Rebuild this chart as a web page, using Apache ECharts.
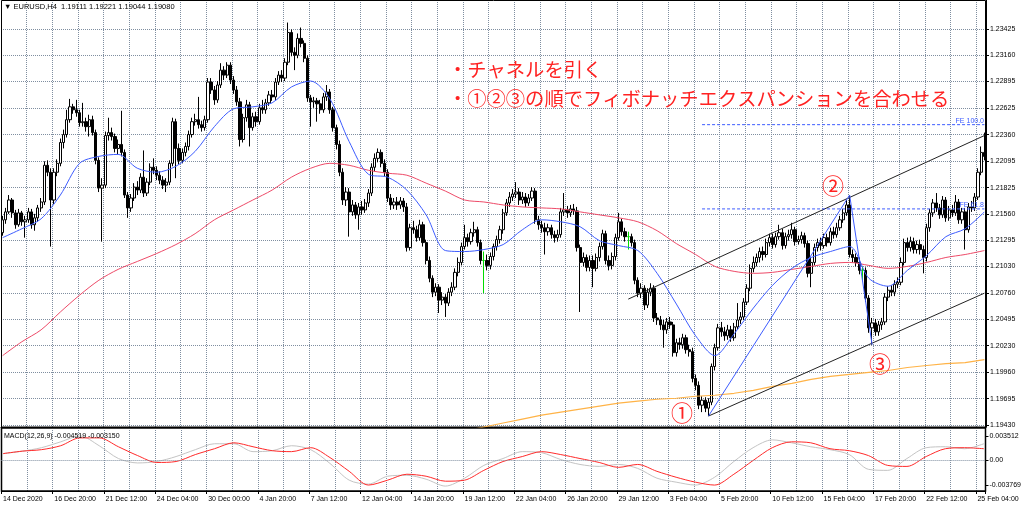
<!DOCTYPE html>
<html><head><meta charset="utf-8">
<script src="https://cdn.jsdelivr.net/npm/echarts@6/dist/echarts.min.js"></script>
<style>html,body{margin:0;padding:0;background:#fff}#c{width:1024px;height:508px}</style>
</head><body><div id="c"></div>
<script>
// ---- tick labels ----
const priceLabels = ['1.19430','1.19695','1.19960','1.20230','1.20495','1.20760','1.21030','1.21295','1.21560','1.21825','1.22095','1.22360','1.22625','1.22895','1.23160','1.23425'];
const timeLabels = ['14 Dec 2020','16 Dec 20:00','21 Dec 12:00','24 Dec 04:00','30 Dec 00:00','4 Jan 20:00','7 Jan 12:00','12 Jan 04:00','14 Jan 20:00','19 Jan 12:00','22 Jan 04:00','26 Jan 20:00','29 Jan 12:00','3 Feb 04:00','5 Feb 20:00','10 Feb 12:00','15 Feb 04:00','17 Feb 20:00','22 Feb 12:00','25 Feb 04:00'];
const macdLabels = [0.003512, 0, -0.003769];

// ---- EURUSD H4 candles ----
const opens = [1.2137,1.2150,1.2158,1.2170,1.2157,1.2145,1.2157,1.2148,1.2150,1.2158,1.2145,1.2152,1.2162,1.2168,1.2205,1.2198,1.2170,1.2198,1.2207,1.2228,
1.2236,1.2251,1.2264,1.2261,1.2258,1.2248,1.2249,1.2244,1.2251,1.2238,1.2210,1.2182,1.2185,1.2235,1.2238,1.2234,1.2222,1.2226,1.2218,1.2175,
1.2162,1.2172,1.2183,1.2180,1.2193,1.2177,1.2188,1.2203,1.2200,1.2195,1.2190,1.2185,1.2188,1.2207,1.2249,1.2222,1.2210,1.2218,1.2224,1.2236,
1.2249,1.2251,1.2246,1.2243,1.2251,1.2289,1.2281,1.2271,1.2286,1.2301,1.2296,1.2306,1.2291,1.2281,1.2269,1.2231,1.2253,1.2266,1.2243,1.2254,
1.2249,1.2263,1.2261,1.2268,1.2276,1.2274,1.2289,1.2296,1.2293,1.2309,1.2339,1.2319,1.2316,1.2333,1.2328,1.2313,1.2273,1.2269,1.2270,1.2267,
1.2261,1.2274,1.2279,1.2261,1.2243,1.2226,1.2198,1.2170,1.2178,1.2158,1.2165,1.2155,1.2163,1.2160,1.2167,1.2177,1.2203,1.2212,1.2218,1.2207,
1.2198,1.2172,1.2165,1.2168,1.2165,1.2169,1.2163,1.2122,1.2142,1.2140,1.2132,1.2145,1.2127,1.2109,1.2091,1.2077,1.2082,1.2069,1.2072,1.2066,
1.2077,1.2082,1.2097,1.2107,1.2123,1.2132,1.2128,1.2137,1.2140,1.2127,1.2109,1.2109,1.2104,1.2113,1.2123,1.2130,1.2140,1.2157,1.2167,1.2173,
1.2176,1.2178,1.2170,1.2173,1.2167,1.2172,1.2179,1.2150,1.2145,1.2142,1.2138,1.2142,1.2135,1.2132,1.2135,1.2158,1.2160,1.2157,1.2161,1.2159,
1.2122,1.2107,1.2112,1.2102,1.2109,1.2101,1.2112,1.2123,1.2136,1.2109,1.2104,1.2113,1.2132,1.2148,1.2138,1.2133,1.2133,1.2127,1.2089,1.2076,
1.2081,1.2064,1.2077,1.2081,1.2051,1.2049,1.2044,1.2039,1.2047,1.2044,1.2016,1.2026,1.2024,1.2031,1.2019,1.2017,1.1990,1.1983,1.1963,1.1968,
1.1960,1.1966,1.2002,1.2021,1.2041,1.2037,1.2033,1.2039,1.2031,1.2042,1.2049,1.2052,1.2067,1.2081,1.2101,1.2107,1.2112,1.2118,1.2115,1.2127,
1.2132,1.2125,1.2133,1.2137,1.2124,1.2133,1.2135,1.2140,1.2128,1.2130,1.2134,1.2126,1.2096,1.2107,1.2122,1.2127,1.2124,1.2132,1.2127,1.2138,
1.2135,1.2142,1.2150,1.2157,1.2165,1.2115,1.2112,1.2107,1.2099,1.2099,1.2071,1.2041,1.2046,1.2037,1.2044,1.2047,1.2072,1.2079,1.2077,1.2085,
1.2087,1.2107,1.2127,1.2122,1.2128,1.2120,1.2125,1.2120,1.2112,1.2142,1.2157,1.2167,1.2162,1.2155,1.2170,1.2152,1.2160,1.2157,1.2168,1.2150,
1.2158,1.2140,1.2163,1.2162,1.2173,1.2198,1.2218];
const highs = [1.2154,1.2162,1.2175,1.2172,1.2160,1.2161,1.2159,1.2154,1.2162,1.2161,1.2156,1.2165,1.2172,1.2209,1.2210,1.2202,1.2202,1.2211,1.2232,1.2241,
1.2261,1.2272,1.2267,1.2271,1.2261,1.2268,1.2253,1.2256,1.2255,1.2241,1.2213,1.2192,1.2239,1.2253,1.2243,1.2237,1.2231,1.2260,1.2221,1.2178,
1.2176,1.2187,1.2189,1.2197,1.2220,1.2192,1.2207,1.2212,1.2204,1.2199,1.2194,1.2192,1.2210,1.2253,1.2252,1.2227,1.2222,1.2228,1.2240,1.2253,
1.2257,1.2274,1.2250,1.2255,1.2293,1.2293,1.2285,1.2290,1.2308,1.2305,1.2309,1.2309,1.2295,1.2285,1.2273,1.2257,1.2271,1.2269,1.2258,1.2259,
1.2267,1.2271,1.2272,1.2280,1.2281,1.2293,1.2300,1.2301,1.2313,1.2349,1.2342,1.2324,1.2338,1.2344,1.2331,1.2316,1.2276,1.2274,1.2273,1.2271,
1.2278,1.2286,1.2282,1.2264,1.2246,1.2230,1.2202,1.2183,1.2182,1.2170,1.2168,1.2167,1.2169,1.2171,1.2181,1.2207,1.2217,1.2222,1.2221,1.2211,
1.2201,1.2176,1.2172,1.2173,1.2173,1.2172,1.2167,1.2146,1.2149,1.2144,1.2150,1.2148,1.2130,1.2113,1.2094,1.2086,1.2085,1.2077,1.2075,1.2081,
1.2087,1.2101,1.2112,1.2127,1.2145,1.2136,1.2141,1.2148,1.2143,1.2130,1.2118,1.2115,1.2117,1.2126,1.2134,1.2144,1.2161,1.2171,1.2178,1.2181,
1.2188,1.2182,1.2178,1.2177,1.2176,1.2183,1.2182,1.2154,1.2149,1.2147,1.2146,1.2145,1.2139,1.2140,1.2162,1.2177,1.2164,1.2165,1.2166,1.2163,
1.2125,1.2117,1.2115,1.2114,1.2114,1.2116,1.2127,1.2140,1.2139,1.2114,1.2117,1.2136,1.2157,1.2151,1.2142,1.2138,1.2136,1.2130,1.2092,1.2086,
1.2084,1.2081,1.2086,1.2084,1.2056,1.2053,1.2049,1.2051,1.2052,1.2047,1.2030,1.2031,1.2035,1.2034,1.2024,1.2021,1.1994,1.1987,1.1972,1.1971,
1.1970,1.2005,1.2025,1.2045,1.2047,1.2042,1.2044,1.2043,1.2046,1.2066,1.2057,1.2071,1.2085,1.2105,1.2113,1.2116,1.2122,1.2123,1.2131,1.2136,
1.2136,1.2137,1.2145,1.2141,1.2137,1.2140,1.2147,1.2143,1.2134,1.2138,1.2137,1.2129,1.2112,1.2126,1.2131,1.2132,1.2136,1.2136,1.2142,1.2143,
1.2147,1.2154,1.2161,1.2170,1.2175,1.2120,1.2116,1.2112,1.2103,1.2102,1.2074,1.2051,1.2050,1.2048,1.2051,1.2076,1.2083,1.2084,1.2089,1.2092,
1.2112,1.2131,1.2132,1.2133,1.2132,1.2129,1.2130,1.2124,1.2146,1.2161,1.2171,1.2177,1.2166,1.2174,1.2173,1.2164,1.2165,1.2175,1.2171,1.2162,
1.2162,1.2167,1.2169,1.2177,1.2202,1.2224,1.2238];
const lows = [1.2134,1.2146,1.2156,1.2152,1.2141,1.2143,1.2144,1.2132,1.2147,1.2141,1.2139,1.2148,1.2158,1.2165,1.2194,1.2123,1.2166,1.2194,1.2204,1.2222,
1.2233,1.2248,1.2257,1.2254,1.2244,1.2244,1.2239,1.2234,1.2235,1.2206,1.2178,1.2128,1.2182,1.2230,1.2230,1.2218,1.2216,1.2214,1.2172,1.2152,
1.2158,1.2169,1.2175,1.2177,1.2173,1.2174,1.2185,1.2196,1.2190,1.2186,1.2181,1.2178,1.2185,1.2204,1.2192,1.2206,1.2207,1.2214,1.2220,1.2233,
1.2245,1.2242,1.2239,1.2240,1.2248,1.2277,1.2266,1.2268,1.2283,1.2291,1.2293,1.2287,1.2277,1.2265,1.2224,1.2228,1.2249,1.2224,1.2240,1.2244,
1.2246,1.2257,1.2257,1.2265,1.2270,1.2271,1.2286,1.2289,1.2290,1.2306,1.2315,1.2301,1.2313,1.2324,1.2309,1.2269,1.2244,1.2263,1.2249,1.2257,
1.2258,1.2270,1.2257,1.2239,1.2221,1.2194,1.2165,1.2164,1.2133,1.2154,1.2151,1.2140,1.2155,1.2157,1.2163,1.2174,1.2199,1.2208,1.2203,1.2194,
1.2168,1.2160,1.2161,1.2160,1.2161,1.2158,1.2118,1.2119,1.2136,1.2128,1.2129,1.2123,1.2105,1.2087,1.2072,1.2073,1.2056,1.2064,1.2052,1.2063,
1.2073,1.2079,1.2093,1.2104,1.2120,1.2123,1.2125,1.2133,1.2123,1.2105,1.2076,1.2099,1.2100,1.2109,1.2119,1.2126,1.2136,1.2154,1.2163,1.2169,
1.2172,1.2165,1.2166,1.2163,1.2164,1.2169,1.2146,1.2140,1.2137,1.2115,1.2134,1.2131,1.2127,1.2128,1.2132,1.2154,1.2152,1.2153,1.2155,1.2118,
1.2057,1.2103,1.2098,1.2098,1.2082,1.2098,1.2108,1.2120,1.2105,1.2099,1.2100,1.2109,1.2129,1.2134,1.2128,1.2120,1.2123,1.2085,1.2072,1.2071,
1.2059,1.2061,1.2073,1.2047,1.2044,1.2039,1.2021,1.2035,1.2040,1.2012,1.2012,1.2019,1.2020,1.2015,1.2012,1.1986,1.1978,1.1959,1.1956,1.1956,
1.1952,1.1963,1.1998,1.2018,1.2032,1.2028,1.2029,1.2027,1.2028,1.2039,1.2045,1.2049,1.2064,1.2078,1.2097,1.2103,1.2107,1.2109,1.2112,1.2123,
1.2121,1.2122,1.2130,1.2120,1.2121,1.2129,1.2131,1.2124,1.2125,1.2126,1.2122,1.2092,1.2082,1.2104,1.2118,1.2119,1.2121,1.2123,1.2124,1.2131,
1.2132,1.2139,1.2147,1.2154,1.2112,1.2107,1.2103,1.2095,1.2089,1.2067,1.2036,1.2024,1.2033,1.2033,1.2039,1.2044,1.2068,1.2073,1.2073,1.2081,
1.2084,1.2104,1.2118,1.2118,1.2116,1.2116,1.2115,1.2096,1.2108,1.2138,1.2153,1.2158,1.2151,1.2152,1.2148,1.2149,1.2153,1.2154,1.2146,1.2146,
1.2120,1.2137,1.2158,1.2159,1.2170,1.2195,1.2210];
const closes = [1.2150,1.2158,1.2170,1.2157,1.2145,1.2157,1.2148,1.2150,1.2158,1.2145,1.2152,1.2162,1.2168,1.2205,1.2198,1.2170,1.2198,1.2207,1.2228,1.2236,
1.2251,1.2264,1.2261,1.2258,1.2248,1.2249,1.2244,1.2251,1.2238,1.2210,1.2182,1.2185,1.2235,1.2238,1.2234,1.2222,1.2226,1.2218,1.2175,1.2162,
1.2172,1.2183,1.2180,1.2193,1.2177,1.2188,1.2203,1.2200,1.2195,1.2190,1.2185,1.2188,1.2207,1.2249,1.2222,1.2210,1.2218,1.2224,1.2236,1.2249,
1.2251,1.2246,1.2243,1.2251,1.2289,1.2281,1.2271,1.2286,1.2301,1.2296,1.2306,1.2291,1.2281,1.2269,1.2231,1.2253,1.2266,1.2243,1.2254,1.2249,
1.2263,1.2261,1.2268,1.2276,1.2274,1.2289,1.2296,1.2293,1.2309,1.2339,1.2319,1.2316,1.2333,1.2328,1.2313,1.2273,1.2269,1.2270,1.2267,1.2261,
1.2274,1.2279,1.2261,1.2243,1.2226,1.2198,1.2170,1.2178,1.2158,1.2165,1.2155,1.2163,1.2160,1.2167,1.2177,1.2203,1.2212,1.2218,1.2207,1.2198,
1.2172,1.2165,1.2168,1.2165,1.2169,1.2163,1.2122,1.2142,1.2140,1.2132,1.2145,1.2127,1.2109,1.2091,1.2077,1.2082,1.2069,1.2072,1.2066,1.2077,
1.2082,1.2097,1.2107,1.2123,1.2132,1.2128,1.2137,1.2140,1.2127,1.2109,1.2109,1.2104,1.2113,1.2123,1.2130,1.2140,1.2157,1.2167,1.2173,1.2176,
1.2178,1.2170,1.2173,1.2167,1.2172,1.2179,1.2150,1.2145,1.2142,1.2138,1.2142,1.2135,1.2132,1.2135,1.2158,1.2160,1.2157,1.2161,1.2159,1.2122,
1.2107,1.2112,1.2102,1.2109,1.2101,1.2112,1.2123,1.2136,1.2109,1.2104,1.2113,1.2132,1.2148,1.2138,1.2133,1.2133,1.2127,1.2089,1.2076,1.2081,
1.2064,1.2077,1.2081,1.2051,1.2049,1.2044,1.2039,1.2047,1.2044,1.2016,1.2026,1.2024,1.2031,1.2019,1.2017,1.1990,1.1983,1.1963,1.1968,1.1960,
1.1966,1.2002,1.2021,1.2041,1.2037,1.2033,1.2039,1.2031,1.2042,1.2049,1.2052,1.2067,1.2081,1.2101,1.2107,1.2112,1.2118,1.2115,1.2127,1.2132,
1.2125,1.2133,1.2137,1.2124,1.2133,1.2135,1.2140,1.2128,1.2130,1.2134,1.2126,1.2096,1.2107,1.2122,1.2127,1.2124,1.2132,1.2127,1.2138,1.2135,
1.2142,1.2150,1.2157,1.2165,1.2115,1.2112,1.2107,1.2099,1.2099,1.2071,1.2041,1.2046,1.2037,1.2044,1.2047,1.2072,1.2079,1.2077,1.2085,1.2087,
1.2107,1.2127,1.2122,1.2128,1.2120,1.2125,1.2120,1.2112,1.2142,1.2157,1.2167,1.2162,1.2155,1.2170,1.2152,1.2160,1.2157,1.2168,1.2150,1.2158,
1.2140,1.2163,1.2162,1.2173,1.2198,1.2218,1.2214];

// ---- moving averages, one reading every 6th bar ----
const maStep = 6;
const maBlue = [1.2132,1.2141,1.2151,1.2175,1.2207,1.2214,1.2216,1.2202,1.2198,1.2204,1.2219,1.2244,1.2262,1.2264,1.2268,1.2284,1.2290,1.2272,1.2229,1.2196,
1.2193,1.2180,1.2155,1.2119,1.2118,1.2120,1.2125,1.2140,1.2150,1.2148,1.2143,1.2129,1.2124,1.2119,1.2096,1.2065,1.2033,1.2013,1.2035,1.2061,
1.2084,1.2101,1.2112,1.2118,1.2123,1.2091,1.2083,1.2099,1.2114,1.2133,1.2141,1.2158];
const maRed = [1.2013,1.2027,1.2039,1.2057,1.2074,1.2089,1.2100,1.2108,1.2116,1.2125,1.2136,1.2150,1.2160,1.2170,1.2180,1.2193,1.2202,1.2207,1.2205,1.2200,
1.2197,1.2195,1.2187,1.2179,1.2170,1.2168,1.2165,1.2163,1.2162,1.2161,1.2158,1.2155,1.2152,1.2148,1.2139,1.2126,1.2115,1.2103,1.2098,1.2096,
1.2097,1.2100,1.2103,1.2106,1.2107,1.2104,1.2101,1.2103,1.2107,1.2112,1.2115,1.2119];
const maOrange = [null,null,null,null,null,null,null,null,null,null,null,null,null,null,null,null,null,null,null,null,
null,null,null,null,1.1937,1.1941,1.1945,1.1949,1.1953,1.1956,1.1959,1.1962,1.1965,1.1967,1.1969,1.1970,1.1972,1.1973,1.1975,1.1978,
1.1982,1.1985,1.1989,1.1992,1.1994,1.1996,1.1998,1.2001,1.2003,1.2005,1.2006,1.2009];

// ---- MACD(12,26,9), one reading every 6th bar ----
const macdMain = [0.00091,0.00127,0.00178,0.00264,0.00351,0.00207,0.00019,-0.00046,-0.00025,0.00048,0.00149,0.00236,0.00236,0.00120,0.00134,0.00207,0.00149,-0.00053,-0.00299,-0.00357,
-0.00241,-0.00227,-0.00285,-0.00386,-0.00270,-0.00082,0.00019,0.00120,0.00105,0.00004,-0.00068,-0.00097,-0.00068,-0.00126,-0.00270,-0.00328,-0.00371,-0.00256,-0.00025,0.00178,
0.00293,0.00250,0.00192,0.00149,0.00077,-0.00140,-0.00155,0.00019,0.00178,0.00192,0.00163,0.00236];
const macdSignal = [0.00091,0.00127,0.00149,0.00207,0.00322,0.00322,0.00192,0.00062,-0.00039,-0.00025,0.00077,0.00163,0.00250,0.00192,0.00134,0.00120,0.00178,0.00033,-0.00169,-0.00371,
-0.00299,-0.00212,-0.00241,-0.00314,-0.00299,-0.00155,-0.00025,0.00048,0.00120,0.00077,0.00019,-0.00039,-0.00111,-0.00068,-0.00169,-0.00256,-0.00328,-0.00371,-0.00212,-0.00010,
0.00178,0.00264,0.00250,0.00163,0.00134,0.00062,-0.00082,-0.00097,0.00048,0.00163,0.00178,0.00163];

// ---- drawn objects (bar index, price) ----
const zigzagBars = [220, 264, 271];
const zigzagPrices = [1.1952, 1.2175, 1.2024];
const chanUpperBars = [195, 306];
const chanUpperPrices = [1.2070, 1.2235];
const chanLowerBars = [220, 306];
const chanLowerPrices = [1.1952, 1.2076];
const feBars = [218, 306];
const fe100 = 1.2246;
const fe618 = 1.2161;

// ---- build ----
const chart = echarts.init(document.getElementById('c'), null, {renderer: 'canvas'});
const cats = opens.map((_, i) => String(i));
const gridCol = '#7f8ea0';
const gridLine = {color: gridCol, type: 'dotted', width: 1};
const GREEN = '#00dd00';
const candleData = opens.map((o, i) => {
  const it = {value: [o, closes[i], lows[i], highs[i]]};
  if (o === closes[i]) it.itemStyle = {color: GREEN, color0: GREEN, borderColor: GREEN, borderColor0: GREEN, borderColorDoji: GREEN};
  return it;
});
const pairs = arr => arr.map((v, k) => [k * maStep, v]).filter(p => p[1] !== null);
const zip = (bs, ps) => bs.map((b, k) => [b, ps[k]]);
const axisFont = 'Liberation Sans';
const every8 = (i) => i % 8 === 0 && i > 0;
const every16 = (i) => i % 16 === 0;

const option = {
  animation: false,
  backgroundColor: '#ffffff',
  grid: [
    {left: 1, right: 38, top: 0, height: 427, show: false},
    {left: 1, right: 38, top: 430, height: 61, show: false}
  ],
  xAxis: [
    {type: 'category', gridIndex: 0, data: cats, boundaryGap: true,
     axisLine: {show: true, onZero: false, lineStyle: {color: '#000', width: 1}}, axisTick: {show: false}, axisLabel: {show: false},
     splitLine: {show: true, interval: every8, lineStyle: gridLine}},
    {type: 'category', gridIndex: 1, data: cats, boundaryGap: true,
     axisLine: {show: true, onZero: false, lineStyle: {color: '#000'}},
     axisTick: {show: true, length: 3, interval: every16, lineStyle: {color: '#000'}},
     axisLabel: {show: true, interval: every16, formatter: (v, i) => timeLabels[i / 16] || '',
       align: 'left', margin: 5, fontSize: 7, fontFamily: axisFont, color: '#000'},
     splitLine: {show: true, interval: every8, lineStyle: gridLine}}
  ],
  yAxis: [
    {type: 'value', gridIndex: 0, position: 'right', min: 1.194098, max: 1.237176,
     axisLine: {show: true, lineStyle: {color: '#000'}},
     axisTick: {show: true, length: 3, customValues: priceLabels.map(Number), lineStyle: {color: '#000'}},
     axisLabel: {show: true, customValues: priceLabels.map(Number), formatter: v => v.toFixed(5),
       margin: 4, fontSize: 7, fontFamily: axisFont, color: '#000'},
     splitLine: {show: true, lineStyle: gridLine}},
    {type: 'value', gridIndex: 1, position: 'right', min: -0.004581, max: 0.004379,
     axisLine: {show: true, lineStyle: {color: '#000'}},
     axisTick: {show: true, length: 3, customValues: macdLabels, lineStyle: {color: '#000'}},
     axisLabel: {show: true, customValues: macdLabels, formatter: v => (v === 0 ? '0.00' : v.toFixed(6)),
       margin: 4, fontSize: 7, fontFamily: axisFont, color: '#000'},
     splitLine: {show: false}}
  ],
  series: [
    {type: 'candlestick', name: 'EURUSD', xAxisIndex: 0, yAxisIndex: 0, data: candleData, barWidth: 2.7, z: 2,
     itemStyle: {color: '#ffffff', color0: '#000000', borderColor: '#000000', borderColor0: '#000000', borderColorDoji: GREEN, borderWidth: 1}},
    {type: 'line', name: 'MA orange', data: pairs(maOrange), symbol: 'none', z: 3, lineStyle: {color: '#ffb347', width: 1.2}},
    {type: 'line', name: 'MA red', data: pairs(maRed), symbol: 'none', smooth: 0.3, z: 3, lineStyle: {color: '#ee4a68', width: 1}},
    {type: 'line', name: 'MA blue', data: pairs(maBlue), symbol: 'none', smooth: 0.3, z: 4, lineStyle: {color: '#3d5cff', width: 1}},
    {type: 'line', name: 'channel upper', data: zip(chanUpperBars, chanUpperPrices), symbol: 'none', z: 5, lineStyle: {color: '#222', width: 1}},
    {type: 'line', name: 'channel lower', data: zip(chanLowerBars, chanLowerPrices), symbol: 'none', z: 5, lineStyle: {color: '#222', width: 1}},
    {type: 'line', name: 'FE zigzag', data: zip(zigzagBars, zigzagPrices), symbol: 'none', z: 5, lineStyle: {color: '#3d5cff', width: 1}},
    {type: 'line', name: 'FE 100.0', data: feBars.map(b => [b, fe100]), symbol: 'none', z: 5, lineStyle: {color: '#3d5cff', width: 1, type: [3, 2]}},
    {type: 'line', name: 'FE 61.8', data: feBars.map(b => [b, fe618]), symbol: 'none', z: 5, lineStyle: {color: '#3d5cff', width: 1, type: [3, 2]}},
    {type: 'line', name: 'MACD', xAxisIndex: 1, yAxisIndex: 1, data: pairs(macdMain), symbol: 'none', smooth: 0.3, z: 3,
     lineStyle: {color: '#c4c4c4', width: 1},
     markLine: {silent: true, symbol: 'none', label: {show: false}, lineStyle: gridLine, data: [{yAxis: 0}]}},
    {type: 'line', name: 'Signal', xAxisIndex: 1, yAxisIndex: 1, data: pairs(macdSignal), symbol: 'none', smooth: 0.3, z: 4,
     lineStyle: {color: '#ff2a2a', width: 1}}
  ],
  graphic: [
    {type: 'rect', silent: true, z: 1, shape: {x: 1.5, y: 0.5, width: 984, height: 426.5}, style: {fill: 'none', stroke: '#000', lineWidth: 1}},
    {type: 'rect', silent: true, z: 1, shape: {x: 1.5, y: 428, width: 984, height: 63}, style: {fill: 'none', stroke: '#000', lineWidth: 1.5}},
    {type: 'text', x: 4, y: 3, z: 10, style: {text: '▼ EURUSD,H4  1.19111 1.19221 1.19044 1.19080', fill: '#000', font: '7.5px "Liberation Sans"'}},
    {type: 'text', x: 4, y: 433, z: 10, style: {text: 'MACD(12,26,9) -0.004519 -0.003150', fill: '#000', font: '7px "Liberation Sans"'}},
    {type: 'text', x: 448, y: 70, z: 10, style: {text: '・チャネルを引く', fill: '#ff2222', font: '19.3px "Noto Sans CJK JP"', verticalAlign: 'middle'}},
    {type: 'text', x: 448, y: 99, z: 10, style: {text: '・①②③の順でフィボナッチエクスパンションを合わせる', fill: '#ff2222', font: '19.3px "Noto Sans CJK JP"', verticalAlign: 'middle'}},
    {type: 'text', x: 682, y: 413, z: 10, style: {text: '①', fill: '#ff2222', font: '22px "Noto Sans CJK JP"', align: 'center', verticalAlign: 'middle'}},
    {type: 'text', x: 833, y: 186, z: 10, style: {text: '②', fill: '#ff2222', font: '22px "Noto Sans CJK JP"', align: 'center', verticalAlign: 'middle'}},
    {type: 'text', x: 880, y: 364, z: 10, style: {text: '③', fill: '#ff2222', font: '22px "Noto Sans CJK JP"', align: 'center', verticalAlign: 'middle'}},
    {type: 'text', x: 984, y: 121, z: 10, style: {text: 'FE 100.0', fill: '#3d5cff', font: '7px "Liberation Sans"', align: 'right', verticalAlign: 'middle'}},
    {type: 'text', x: 984, y: 205, z: 10, style: {text: 'FE 61.8', fill: '#3d5cff', font: '7px "Liberation Sans"', align: 'right', verticalAlign: 'middle'}}
  ]
};
chart.setOption(option);
</script>
</body></html>
